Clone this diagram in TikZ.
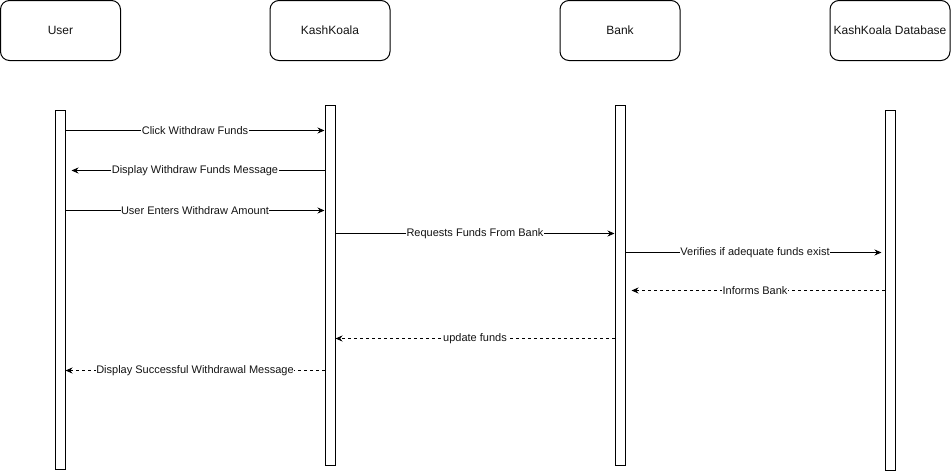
\documentclass[tikz,border=0pt]{standalone}
\usepackage{fontspec}
\setmainfont{Liberation Sans}
\usetikzlibrary{arrows.meta,positioning}
\definecolor{SeqInk}{RGB}{0,0,0}
\definecolor{SeqText}{RGB}{20,20,20}
\tikzset{
  seq/actor/.style={
    draw=SeqInk,
    line width=1pt,
    rounded corners=9pt,
    fill=white,
    align=center,
    text=SeqText,
    minimum width=120pt,
    minimum height=60pt,
    inner sep=1pt,
    font=\fontsize{12}{14}\selectfont
  },
  seq/bar/.style={
    draw=SeqInk,
    line width=1pt,
    fill=white,
    minimum width=10pt,
    inner sep=0pt,
    anchor=north
  },
  seq/call/.style={-{Stealth[length=7pt,width=6pt]}, line width=1pt, draw=SeqInk},
  seq/reply/.style={-{Stealth[length=7pt,width=6pt]}, line width=1pt, draw=SeqInk, dash pattern=on 3pt off 3pt},
  seq/label/.style={fill=white, inner xsep=0.5pt, inner ysep=1pt, text=SeqText, font=\fontsize{11}{13}\selectfont}
}
\begin{document}
\begin{tikzpicture}[x=1pt,y=-1pt]
  \useasboundingbox (0,0) rectangle (951,471);
  % participants
  \node[seq/actor] (user) at (60.5,30.5) {User};
  \node[seq/actor] (kash) at (330,30.5) {KashKoala};
  \node[seq/actor] (bank) at (620,30.5) {Bank};
  \node[seq/actor] (kdb) at (890,30.5) {KashKoala Database};
  % activation bars
  \node[seq/bar,minimum height=359pt] (userbar) at (60,110) {};
  \node[seq/bar,minimum height=360pt] (kashbar) at (330,105) {};
  \node[seq/bar,minimum height=360pt] (bankbar) at (620,105) {};
  \node[seq/bar,minimum height=360pt] (kdbbar) at (890,110) {};
  % messages
  \draw[seq/call] (userbar.east |- 0,130.5) -- node[seq/label] {Click Withdraw Funds} (kashbar.west |- 0,130.5);
  \draw[seq/call,shorten >=6pt] (kashbar.west |- 0,170.5) -- node[seq/label] {Display Withdraw Funds Message} (userbar.east |- 0,170.5);
  \draw[seq/call] (userbar.east |- 0,210.5) -- node[seq/label] {User Enters Withdraw Amount} (kashbar.west |- 0,210.5);
  \draw[seq/call] (kashbar.east |- 0,233.5) -- node[seq/label] {Requests Funds From Bank} (bankbar.west |- 0,233.5);
  \draw[seq/call,shorten >=3pt] (bankbar.east |- 0,252.5) -- node[seq/label] {Verifies if adequate funds exist} (kdbbar.west |- 0,252.5);
  \draw[seq/reply,shorten >=6pt] (kdbbar.west |- 0,290.5) -- node[seq/label] {Informs Bank} (bankbar.east |- 0,290.5);
  \draw[seq/reply] (bankbar.west |- 0,338.5) -- node[seq/label] {update funds} (kashbar.east |- 0,338.5);
  \draw[seq/reply] (kashbar.west |- 0,370.5) -- node[seq/label] {Display Successful Withdrawal Message} (userbar.east |- 0,370.5);
\end{tikzpicture}
\end{document}
